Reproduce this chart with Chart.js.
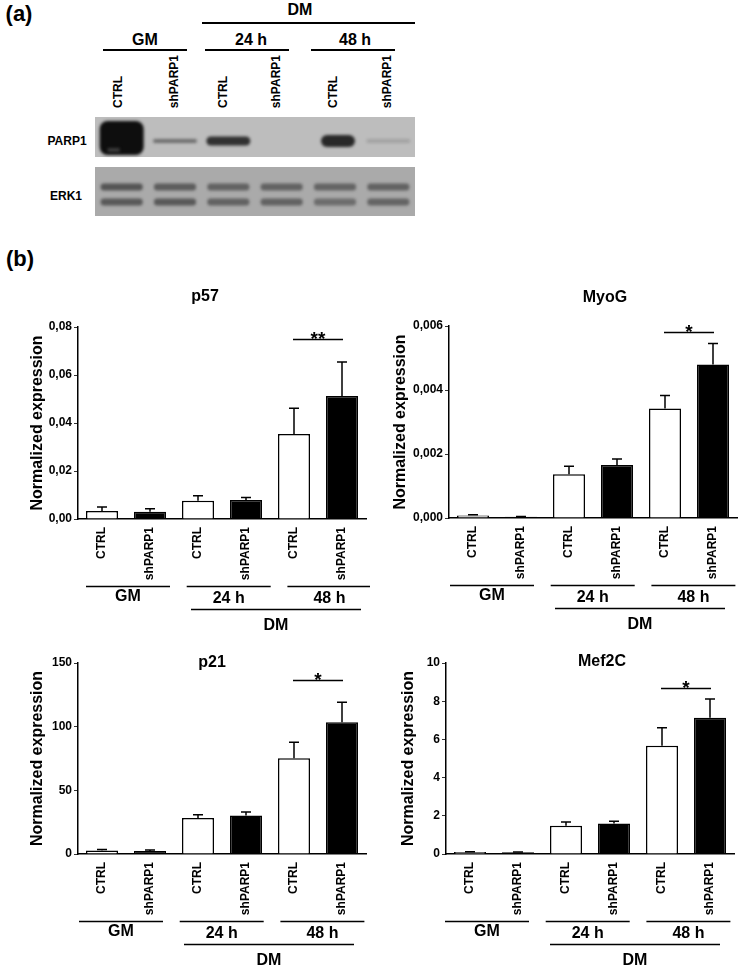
<!DOCTYPE html>
<html>
<head>
<meta charset="utf-8">
<script src="https://cdn.jsdelivr.net/npm/chart.js@4.4.0/dist/chart.umd.min.js"></script>
<style>
  body { margin: 0; background: #fff; font-family: "Liberation Sans", Arial, sans-serif; font-weight: bold; color: #000; }
  #page { position: relative; width: 738px; height: 968px; overflow: hidden; }
  .t { position: absolute; white-space: nowrap; transform: translate(-50%, -50%); }
  .hl { position: absolute; height: 1.5px; background: #000; }
  .lane { position: absolute; writing-mode: vertical-rl; transform: rotate(180deg); font-size: 12px; white-space: nowrap; }
  canvas { position: absolute; }
</style>
</head>
<body>
<div id="page">
  <div class="t" style="left:19px;top:14px;font-size:22px">(a)</div>
  <div class="t" style="left:20px;top:259px;font-size:22px">(b)</div>

  <div class="t" style="left:300px;top:10px;font-size:16px">DM</div>
  <div class="hl" style="left:202px;top:22px;width:213px"></div>
  <div class="t" style="left:145px;top:40px;font-size:16px">GM</div>
  <div class="t" style="left:251px;top:40px;font-size:16px">24 h</div>
  <div class="t" style="left:355px;top:40px;font-size:16px">48 h</div>
  <div class="hl" style="left:103px;top:49px;width:84px"></div>
  <div class="hl" style="left:205px;top:49px;width:84px"></div>
  <div class="hl" style="left:311px;top:49px;width:84px"></div>
  <div id="laneLabels"></div>

  <div class="t" style="left:67px;top:141px;font-size:12px">PARP1</div>
  <div class="t" style="left:66px;top:196px;font-size:12px">ERK1</div>

  <canvas id="blot" width="320" height="110" style="left:95px;top:112px"></canvas>
  <canvas id="p57Chart" width="370" height="360" style="left:0px;top:280px"></canvas>
  <canvas id="myogChart" width="368" height="360" style="left:370px;top:280px"></canvas>
  <canvas id="p21Chart" width="370" height="328" style="left:0px;top:640px"></canvas>
  <canvas id="mef2cChart" width="368" height="328" style="left:370px;top:640px"></canvas>
</div>

<script>
const FONT = '"Liberation Sans", Arial, sans-serif';
Chart.defaults.font.family = FONT;
Chart.defaults.font.weight = 'bold';
Chart.defaults.color = '#000';
Chart.defaults.animation = false;

// categorias
const lanes = ['CTRL', 'shPARP1', 'CTRL', 'shPARP1', 'CTRL', 'shPARP1'];
const groups = ['GM', '24 h', '48 h'];
const parentGroup = 'DM';
const barFill = ['#fff', '#000', '#fff', '#000', '#fff', '#000'];

// western blot (intensidade relativa das bandas)
const parp1Band = [1.0, 0.45, 0.8, 0.0, 0.85, 0.15];
const erk1Upper = [0.62, 0.56, 0.52, 0.52, 0.5, 0.52];
const erk1Lower = [0.58, 0.58, 0.52, 0.52, 0.44, 0.5];

// p57
const p57Mean = [0.0033, 0.0030, 0.0076, 0.0079, 0.0354, 0.0512];
const p57Sem = [0.0017, 0.0013, 0.0021, 0.0011, 0.0107, 0.0142];
const p57Ticks = [0, 0.02, 0.04, 0.06, 0.08];

// MyoG
const myogMean = [0.00008, 0.00004, 0.00137, 0.00166, 0.00342, 0.0048];
const myogSem = [0.00002, 0.00001, 0.00025, 0.00018, 0.00041, 0.00065];
const myogTicks = [0, 0.002, 0.004, 0.006];

// p21
const p21Mean = [2.8, 2.3, 28.2, 30.2, 75.2, 103.4];
const p21Sem = [0.8, 0.8, 2.6, 2.7, 12.6, 15.7];
const p21Ticks = [0, 50, 100, 150];

// Mef2C
const mef2cMean = [0.1, 0.09, 1.48, 1.6, 5.67, 7.13];
const mef2cSem = [0.02, 0.02, 0.19, 0.12, 0.94, 0.98];
const mef2cTicks = [0, 2, 4, 6, 8, 10];

// rótulos das canaletas do blot
const laneCenters = [118, 174, 223, 276, 333, 387];
const laneBox = document.getElementById('laneLabels');
lanes.forEach((l, i) => {
    const el = document.createElement('div');
    el.className = 'lane';
    el.textContent = l;
    laneBox.appendChild(el);
    el.style.left = (laneCenters[i] - el.offsetWidth / 2) + 'px';
    el.style.top = (108 - el.offsetHeight) + 'px';
});

// blot desenhado sobre a escala de categorias
const blotPlugin = {
    id: 'blot',
    beforeDraw(chart) {
        const { ctx, width, scales: { x } } = chart;
        ctx.save();
        ctx.fillStyle = '#bdbdbd';
        ctx.fillRect(0, 5, width, 40);
        ctx.fillStyle = '#aaaaaa';
        ctx.fillRect(0, 55, width, 49);
        ctx.filter = 'blur(1.8px)';
        parp1Band.forEach((v, i) => {
            if (v <= 0) return;
            const cx = x.getPixelForValue(i) + (i === 4 ? 3 : 0);
            const h = 4 + 30 * Math.pow(v, 8);
            const hw = i === 4 ? 17 : 22;
            ctx.fillStyle = `rgba(10,10,10,${Math.min(1, v * 0.98)})`;
            ctx.beginPath();
            ctx.roundRect(cx - hw, 29 - h / 2 + (i === 0 ? -3 : 0), hw * 2, h, Math.min(h / 2, 8));
            ctx.fill();
        });
        // listras claras na banda saturada
        ctx.fillStyle = 'rgba(90,90,90,0.6)';
        ctx.fillRect(x.getPixelForValue(0) - 14, 36, 12, 4);
        [[erk1Upper, 75], [erk1Lower, 90]].forEach(([arr, cy]) => {
            arr.forEach((v, i) => {
                const cx = x.getPixelForValue(i);
                ctx.fillStyle = `rgba(30,30,30,${v})`;
                ctx.beginPath();
                ctx.roundRect(cx - 21, cy - 3.5, 42, 7, 3);
                ctx.fill();
            });
        });
        ctx.restore();
    }
};

new Chart(document.getElementById('blot'), {
    type: 'bar',
    data: { labels: lanes, datasets: [] },
    options: {
        responsive: false,
        layout: { padding: 0 },
        plugins: { legend: { display: false }, tooltip: { enabled: false } },
        scales: { x: { display: false }, y: { display: false, min: 0, max: 1 } }
    },
    plugins: [blotPlugin]
});

// barras de erro, significância, título e grupos do eixo x
function extras(o) {
    return {
        id: 'extras',
        afterDatasetsDraw(chart) {
            const { ctx, scales: { x, y } } = chart;
            const meta = chart.getDatasetMeta(0);
            ctx.save();
            ctx.strokeStyle = '#000';
            ctx.lineWidth = 1.5;
            o.mean.forEach((m, i) => {
                const bx = meta.data[i].x;
                const y0 = y.getPixelForValue(m);
                const y1 = y.getPixelForValue(m + o.sem[i]);
                ctx.beginPath();
                ctx.moveTo(bx, y0);
                ctx.lineTo(bx, y1);
                ctx.moveTo(bx - 5, y1);
                ctx.lineTo(bx + 5, y1);
                ctx.stroke();
            });
            const xa = x.getPixelForValue(4), xb = x.getPixelForValue(5);
            const sy = Math.round(y.getPixelForValue(o.sigAt)) + 0.5;
            ctx.beginPath();
            ctx.moveTo(xa - 1, sy);
            ctx.lineTo(xb + 1, sy);
            ctx.stroke();
            ctx.fillStyle = '#000';
            ctx.font = `bold 19px ${FONT}`;
            ctx.textAlign = 'center';
            ctx.textBaseline = 'alphabetic';
            ctx.fillText(o.sig, (xa + xb) / 2, sy + 5);
            ctx.restore();
        },
        afterDraw(chart) {
            const { ctx, chartArea: a, scales: { x } } = chart;
            ctx.save();
            ctx.fillStyle = '#000';
            ctx.strokeStyle = '#000';
            ctx.lineWidth = 1.5;
            ctx.font = `bold 16px ${FONT}`;
            ctx.textAlign = 'center';
            ctx.textBaseline = 'middle';
            ctx.fillText(o.title, a.left + o.titleAt[0], a.top + o.titleAt[1]);
            groups.forEach((g, i) => {
                const x0 = x.getPixelForValue(2 * i) + o.grpOff + 4.7 * i;
                const x1 = x0 + 84;
                const ly = Math.round(a.bottom + 67) + 0.5;
                ctx.beginPath();
                ctx.moveTo(x0, ly);
                ctx.lineTo(x1, ly);
                ctx.stroke();
                ctx.fillText(g, (x0 + x1) / 2, a.bottom + 78 + (i ? 2 : 0));
            });
            const d0 = x.getPixelForValue(2) + o.grpOff + 9;
            const d1 = x.getPixelForValue(5) + o.grpOff + 35;
            const dy = Math.round(a.bottom + 90) + 0.5;
            ctx.beginPath();
            ctx.moveTo(d0, dy);
            ctx.lineTo(d1, dy);
            ctx.stroke();
            ctx.fillText(parentGroup, (d0 + d1) / 2, a.bottom + 107);
            ctx.restore();
        }
    };
}

function graficoBarras(id, o) {
    return new Chart(document.getElementById(id), {
        type: 'bar',
        data: {
            labels: lanes,
            datasets: [{
                data: o.mean,
                backgroundColor: barFill,
                borderColor: '#000',
                borderWidth: 1.5,
                barPercentage: 0.667,
                categoryPercentage: 1
            }]
        },
        options: {
            responsive: false,
            layout: { padding: { top: o.pad[0], right: o.pad[1], bottom: o.pad[2], left: 0 } },
            plugins: { legend: { display: false }, tooltip: { enabled: false } },
            scales: {
                x: {
                    grid: { display: false, drawTicks: false },
                    border: { display: true, color: '#000', width: 1.5 },
                    ticks: { minRotation: 90, maxRotation: 90, padding: 8, font: { size: 12 } },
                    afterFit: s => { s.height = 62; }
                },
                y: {
                    min: 0,
                    max: o.ticks[o.ticks.length - 1],
                    afterBuildTicks: s => { s.ticks = o.ticks.map(v => ({ value: v })); },
                    ticks: {
                        padding: 2,
                        font: { size: 12 },
                        callback: v => v.toFixed(o.dec).replace('.', ',')
                    },
                    grid: { drawOnChartArea: false, tickLength: 4, color: '#333' },
                    border: { display: true, color: '#000', width: 1.5 },
                    title: {
                        display: true,
                        text: 'Normalized expression',
                        font: { size: 16 },
                        padding: { top: o.yTitlePad, bottom: 0 }
                    },
                    afterFit: s => { s.width = o.yw; }
                }
            }
        },
        plugins: [extras(o)]
    });
}

window.addEventListener('DOMContentLoaded', () => {
    graficoBarras('p57Chart', {
        mean: p57Mean, sem: p57Sem, ticks: p57Ticks, dec: 2,
        title: 'p57', sig: '**', sigAt: 0.075,
        pad: [47, 4, 59], yw: 78, yTitlePad: 28, titleAt: [127, -30], grpOff: -16
    });
    graficoBarras('myogChart', {
        mean: myogMean, sem: myogSem, ticks: myogTicks, dec: 3,
        title: 'MyoG', sig: '*', sigAt: 0.0058,
        pad: [46, 1, 60], yw: 79, yTitlePad: 21, titleAt: [156, -28], grpOff: -23
    });
    graficoBarras('p21Chart', {
        mean: p21Mean, sem: p21Sem, ticks: p21Ticks, dec: 0,
        title: 'p21', sig: '*', sigAt: 136.6,
        pad: [23, 4, 52], yw: 78, yTitlePad: 28, titleAt: [134, 0], grpOff: -23
    });
    graficoBarras('mef2cChart', {
        mean: mef2cMean, sem: mef2cSem, ticks: mef2cTicks, dec: 0,
        title: 'Mef2C', sig: '*', sigAt: 8.67,
        pad: [23, 4, 52], yw: 76, yTitlePad: 29, titleAt: [156, -1], grpOff: -25
    });
});
</script>
</body>
</html>
